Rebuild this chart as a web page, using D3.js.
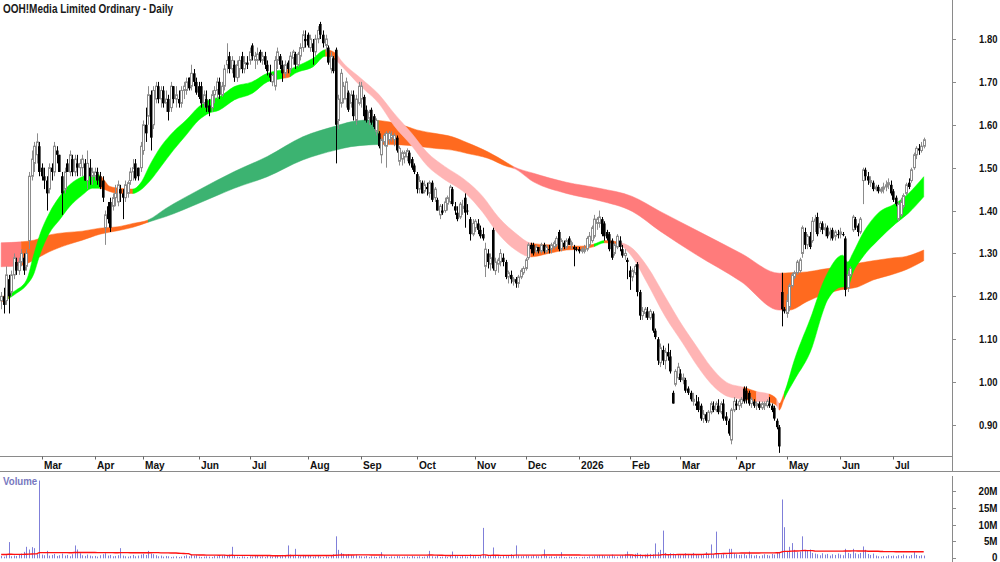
<!DOCTYPE html>
<html><head><meta charset="utf-8">
<script src="https://cdn.jsdelivr.net/npm/d3@7"></script>
<style>body{margin:0;background:#fff}svg{display:block}text{font-family:"Liberation Sans",Arial,Helvetica,sans-serif}</style>
</head><body><svg id="c" width="1000" height="562"></svg>
<script>
const title = "OOH!Media Limited Ordinary - Daily";
const startDate = "2025-02-07", endDate = "2026-07-17";
const holidays = ["2025-04-18","2025-04-21","2025-04-25","2025-06-09","2025-12-25","2025-12-26","2026-01-01","2026-01-26","2026-04-03","2026-04-06","2026-06-08"];
const monthNames = ["Jan","Feb","Mar","Apr","May","Jun","Jul","Aug","Sep","Oct","Nov","Dec"];

const open = [
1.19,1.20,1.19,1.24,1.21,1.25,1.28,1.26,1.28,1.29,1.27,1.33,1.48,1.51,1.53,1.55,
1.50,1.48,1.47,1.45,1.50,1.49,1.54,1.53,1.48,1.45,1.51,1.49,1.52,1.49,1.51,1.50,1.50,1.51,1.47,1.50,1.48,
1.48,1.49,1.48,1.47,1.36,1.41,1.42,1.41,1.43,1.42,1.45,1.44,1.43,1.44,1.47,1.49,1.51,1.50,1.50,
1.54,1.60,1.62,1.67,1.60,1.66,1.69,1.66,1.68,1.65,1.66,1.64,1.69,1.66,1.66,1.65,1.68,1.68,1.71,1.69,1.72,1.70,
1.69,1.69,1.65,1.66,1.645,1.64,1.67,1.68,1.70,1.67,1.69,1.74,1.76,1.73,1.74,1.71,1.73,1.76,1.73,1.745,
1.75,1.785,1.75,1.75,1.77,1.75,1.76,1.74,1.72,1.70,1.69,1.75,1.76,1.74,1.72,1.745,1.73,1.755,1.765,1.74,1.76,1.78,1.80,
1.81,1.78,1.79,1.77,1.80,1.835,1.81,1.785,1.78,1.73,1.755,1.775,1.61,1.65,1.66,1.66,1.675,1.65,1.67,1.61,1.65,
1.66,1.665,1.635,1.615,1.635,1.62,1.585,1.58,1.53,1.56,1.55,1.565,1.57,1.565,1.57,1.515,1.52,1.525,1.525,1.535,1.52,1.505,
1.485,1.45,1.465,1.445,1.455,1.44,1.465,1.43,1.425,1.39,1.40,1.40,1.415,1.42,1.45,1.41,1.395,1.385,1.405,1.43,1.40,1.38,1.345,
1.36,1.37,1.355,1.345,1.27,1.30,1.275,1.355,1.26,1.275,1.28,1.29,1.28,1.245,1.25,1.235,1.24,1.23,1.245,1.255,
1.265,1.29,1.32,1.32,1.305,1.315,1.305,1.32,1.305,1.31,1.31,1.315,1.32,1.35,1.31,1.325,1.315,1.335,1.32,1.315,1.31,
1.31,1.305,1.305,1.31,1.32,1.33,1.34,1.37,1.37,1.38,1.37,1.35,1.345,1.33,1.30,1.315,1.33,1.31,1.295,1.285,
1.26,1.245,1.255,1.275,1.21,1.155,1.16,1.165,1.15,1.16,1.12,1.10,1.045,1.075,1.05,1.07,1.06,0.975,0.995,1.01,
1.02,1.005,1.005,0.985,0.975,0.955,0.95,0.955,0.945,0.915,0.925,0.91,0.93,0.945,0.935,0.945,0.93,0.95,0.92,0.91,0.865,0.935,
0.95,0.945,0.95,0.985,0.98,0.975,0.95,0.955,0.945,0.95,0.94,0.945,0.945,0.95,0.945,0.94,0.91,0.895,1.21,1.17,
1.16,1.175,1.225,1.245,1.255,1.26,1.30,1.35,1.32,1.34,1.33,1.375,1.385,1.36,1.37,1.355,1.36,1.345,1.355,1.34,1.345,
1.345,1.345,1.335,1.22,1.25,1.355,1.38,1.365,1.35,1.47,1.495,1.48,1.465,1.465,1.45,1.455,1.445,1.45,1.455,1.46,1.46,
1.445,1.43,1.38,1.39,1.41,1.44,1.465,1.47,1.50,1.53,1.545,1.54,1.55];

const high = [
1.21,1.22,1.27,1.25,1.26,1.30,1.29,1.29,1.31,1.30,1.31,1.49,1.54,1.56,1.58,1.56,
1.51,1.50,1.48,1.51,1.51,1.56,1.55,1.53,1.49,1.50,1.52,1.54,1.53,1.53,1.53,1.52,1.53,1.52,1.54,1.52,1.50,
1.50,1.50,1.49,1.48,1.40,1.42,1.43,1.44,1.46,1.47,1.46,1.45,1.47,1.47,1.50,1.52,1.52,1.50,1.56,
1.61,1.64,1.69,1.68,1.69,1.70,1.70,1.69,1.69,1.68,1.67,1.70,1.69,1.69,1.68,1.69,1.70,1.71,1.71,1.74,1.73,1.71,
1.70,1.70,1.68,1.68,1.66,1.68,1.69,1.71,1.71,1.70,1.74,1.79,1.77,1.76,1.75,1.75,1.76,1.77,1.76,1.76,
1.78,1.79,1.77,1.78,1.775,1.77,1.77,1.75,1.74,1.72,1.76,1.78,1.765,1.75,1.75,1.75,1.77,1.775,1.77,1.77,1.79,1.82,1.82,
1.815,1.81,1.80,1.81,1.83,1.84,1.82,1.81,1.785,1.77,1.76,1.78,1.67,1.73,1.70,1.71,1.68,1.68,1.68,1.67,1.70,
1.70,1.67,1.645,1.635,1.64,1.625,1.615,1.585,1.57,1.58,1.585,1.585,1.585,1.58,1.575,1.55,1.54,1.54,1.545,1.54,1.525,1.51,
1.49,1.48,1.47,1.47,1.465,1.47,1.47,1.455,1.43,1.415,1.415,1.43,1.435,1.46,1.455,1.42,1.41,1.42,1.425,1.44,1.415,1.385,1.38,
1.38,1.38,1.365,1.36,1.325,1.31,1.30,1.36,1.29,1.29,1.31,1.30,1.285,1.26,1.26,1.245,1.245,1.25,1.265,1.27,
1.29,1.325,1.325,1.325,1.32,1.315,1.325,1.325,1.32,1.32,1.325,1.33,1.34,1.355,1.335,1.33,1.335,1.34,1.33,1.32,1.315,
1.315,1.315,1.32,1.34,1.35,1.365,1.39,1.385,1.40,1.385,1.375,1.355,1.35,1.335,1.325,1.345,1.34,1.32,1.31,1.29,
1.27,1.265,1.275,1.28,1.215,1.175,1.175,1.175,1.17,1.165,1.125,1.105,1.09,1.085,1.08,1.09,1.075,0.98,1.03,1.045,
1.03,1.02,1.01,0.99,0.98,0.975,0.97,0.965,0.95,0.935,0.93,0.935,0.955,0.955,0.955,0.96,0.955,0.96,0.93,0.915,0.94,0.965,
0.96,0.96,0.965,0.99,0.99,0.98,0.965,0.96,0.955,0.955,0.955,0.955,0.96,0.965,0.95,0.945,0.915,0.90,1.255,1.175,
1.205,1.23,1.255,1.26,1.285,1.29,1.365,1.36,1.345,1.35,1.385,1.39,1.395,1.375,1.375,1.37,1.365,1.36,1.36,1.355,1.355,
1.36,1.35,1.34,1.26,1.27,1.39,1.385,1.37,1.385,1.50,1.50,1.49,1.48,1.47,1.46,1.46,1.455,1.465,1.47,1.475,1.47,
1.45,1.435,1.42,1.43,1.44,1.465,1.475,1.50,1.535,1.55,1.555,1.56,1.57];

const low = [
1.17,1.16,1.18,1.16,1.20,1.24,1.25,1.25,1.27,1.25,1.26,1.31,1.47,1.49,1.51,1.48,
1.47,1.45,1.40,1.44,1.47,1.48,1.51,1.49,1.39,1.44,1.49,1.48,1.48,1.48,1.48,1.48,1.48,1.47,1.45,1.46,1.46,
1.47,1.46,1.45,1.42,1.32,1.37,1.35,1.40,1.41,1.41,1.42,1.38,1.42,1.43,1.46,1.47,1.47,1.47,1.49,
1.53,1.56,1.60,1.54,1.59,1.65,1.65,1.64,1.64,1.63,1.61,1.63,1.65,1.64,1.64,1.64,1.66,1.67,1.68,1.68,1.69,1.67,
1.66,1.64,1.64,1.63,1.62,1.63,1.65,1.66,1.66,1.665,1.68,1.72,1.72,1.72,1.70,1.70,1.71,1.72,1.72,1.73,
1.74,1.75,1.73,1.74,1.745,1.74,1.73,1.715,1.70,1.69,1.68,1.73,1.73,1.70,1.71,1.72,1.72,1.74,1.73,1.735,1.75,1.77,1.78,
1.78,1.77,1.74,1.76,1.79,1.80,1.78,1.77,1.74,1.72,1.72,1.51,1.59,1.64,1.65,1.64,1.63,1.64,1.61,1.60,1.645,
1.64,1.61,1.605,1.60,1.60,1.59,1.575,1.545,1.51,1.55,1.50,1.555,1.56,1.55,1.535,1.505,1.505,1.51,1.515,1.505,1.495,1.485,
1.44,1.44,1.44,1.44,1.435,1.43,1.42,1.42,1.40,1.38,1.39,1.395,1.40,1.415,1.41,1.39,1.375,1.38,1.39,1.36,1.39,1.33,1.34,
1.35,1.345,1.335,1.33,1.245,1.265,1.26,1.26,1.25,1.255,1.27,1.27,1.24,1.23,1.23,1.225,1.22,1.22,1.24,1.25,
1.26,1.285,1.30,1.295,1.30,1.30,1.30,1.30,1.30,1.30,1.30,1.31,1.315,1.305,1.305,1.31,1.31,1.32,1.31,1.27,1.305,
1.30,1.30,1.30,1.305,1.315,1.325,1.335,1.355,1.36,1.34,1.33,1.33,1.305,1.285,1.295,1.31,1.305,1.29,1.285,1.24,
1.215,1.235,1.25,1.20,1.145,1.145,1.15,1.145,1.145,1.115,1.10,1.04,1.035,1.04,1.03,1.05,1.02,0.95,0.99,1.005,
1.00,0.995,0.975,0.97,0.955,0.945,0.935,0.93,0.91,0.905,0.905,0.905,0.925,0.93,0.93,0.925,0.925,0.91,0.90,0.875,0.855,0.93,
0.935,0.935,0.94,0.95,0.95,0.945,0.94,0.94,0.935,0.935,0.935,0.935,0.94,0.94,0.93,0.91,0.89,0.835,1.13,1.16,
1.15,1.165,1.22,1.24,1.25,1.255,1.29,1.31,1.31,1.31,1.325,1.35,1.34,1.35,1.345,1.34,1.335,1.33,1.33,1.33,1.335,
1.335,1.34,1.20,1.21,1.245,1.35,1.355,1.34,1.345,1.415,1.47,1.46,1.455,1.445,1.445,1.44,1.44,1.44,1.445,1.45,1.435,
1.42,1.41,1.375,1.385,1.405,1.435,1.45,1.465,1.495,1.52,1.53,1.535,1.545];

const close = [
1.20,1.18,1.25,1.20,1.25,1.29,1.26,1.28,1.30,1.26,1.30,1.48,1.52,1.55,1.56,1.49,
1.48,1.47,1.44,1.50,1.49,1.55,1.53,1.49,1.44,1.49,1.49,1.53,1.49,1.52,1.50,1.51,1.52,1.47,1.51,1.48,1.49,
1.49,1.47,1.455,1.43,1.39,1.38,1.36,1.43,1.44,1.46,1.44,1.43,1.46,1.465,1.49,1.50,1.475,1.48,1.55,
1.60,1.58,1.67,1.57,1.68,1.69,1.66,1.68,1.65,1.66,1.63,1.69,1.66,1.67,1.65,1.68,1.69,1.70,1.685,1.72,1.70,1.675,
1.665,1.65,1.67,1.64,1.63,1.67,1.68,1.70,1.67,1.69,1.73,1.75,1.73,1.75,1.71,1.74,1.75,1.73,1.745,1.74,
1.77,1.76,1.76,1.765,1.75,1.76,1.74,1.725,1.71,1.715,1.75,1.77,1.74,1.72,1.74,1.73,1.76,1.77,1.74,1.765,1.78,1.81,1.795,
1.785,1.80,1.77,1.80,1.82,1.81,1.79,1.80,1.745,1.76,1.725,1.60,1.66,1.72,1.69,1.70,1.635,1.67,1.62,1.66,1.69,
1.69,1.62,1.61,1.63,1.605,1.595,1.61,1.55,1.565,1.575,1.58,1.58,1.575,1.575,1.54,1.545,1.535,1.535,1.54,1.51,1.50,1.49,
1.45,1.47,1.44,1.46,1.45,1.465,1.425,1.45,1.40,1.41,1.395,1.42,1.43,1.455,1.415,1.40,1.38,1.415,1.41,1.395,1.40,1.345,1.37,
1.375,1.355,1.34,1.335,1.31,1.28,1.29,1.265,1.28,1.285,1.30,1.28,1.245,1.255,1.24,1.24,1.23,1.245,1.26,1.265,
1.285,1.32,1.31,1.30,1.315,1.305,1.32,1.305,1.315,1.31,1.32,1.325,1.335,1.31,1.33,1.315,1.33,1.32,1.325,1.31,1.31,
1.305,1.31,1.31,1.335,1.34,1.36,1.38,1.38,1.385,1.345,1.34,1.335,1.31,1.29,1.32,1.34,1.315,1.295,1.30,1.28,
1.245,1.26,1.27,1.21,1.155,1.165,1.17,1.15,1.165,1.12,1.105,1.05,1.08,1.05,1.07,1.06,1.025,0.95,1.025,1.035,
1.005,1.01,0.98,0.975,0.96,0.96,0.945,0.935,0.915,0.925,0.91,0.93,0.95,0.935,0.95,0.93,0.95,0.915,0.91,0.88,0.935,0.955,
0.945,0.955,0.96,0.955,0.96,0.95,0.96,0.945,0.95,0.94,0.95,0.95,0.955,0.945,0.935,0.915,0.895,0.85,1.17,1.165,
1.19,1.225,1.25,1.255,1.28,1.285,1.36,1.32,1.34,1.315,1.375,1.38,1.345,1.37,1.355,1.36,1.34,1.35,1.335,1.35,1.345,
1.35,1.345,1.215,1.25,1.265,1.385,1.36,1.35,1.38,1.495,1.48,1.47,1.47,1.45,1.455,1.445,1.45,1.455,1.46,1.465,1.44,
1.425,1.415,1.415,1.42,1.435,1.46,1.455,1.495,1.53,1.545,1.54,1.55,1.565];

// volume in millions of shares
const volume = [
0.7,0.5,0.9,4.8,0.6,0.8,0.7,1.1,1.4,1.9,3.4,2.6,3.3,3.0,1.2,23.0,
1.1,0.9,2.2,0.8,1.0,1.3,0.7,0.9,1.4,0.8,1.0,0.6,1.2,3.8,2.6,1.5,0.9,0.7,1.1,0.8,0.6,
0.7,0.5,0.9,1.2,1.5,0.8,1.0,0.6,0.7,0.9,3.0,0.8,0.6,0.5,0.7,1.0,0.6,0.8,1.1,
1.3,1.0,2.2,1.4,1.2,0.9,0.6,0.8,0.5,0.7,0.6,0.4,0.5,0.6,0.4,0.5,0.7,0.9,0.6,1.1,0.8,1.0,
0.5,0.4,0.5,0.6,0.5,0.4,0.7,0.6,0.8,0.9,1.0,0.8,1.1,3.4,0.7,0.5,0.4,0.6,0.5,0.4,
0.6,0.5,0.9,0.7,0.5,0.6,0.4,0.8,0.6,0.5,0.7,0.9,0.6,1.0,0.8,3.8,1.1,0.9,2.8,0.7,0.6,1.0,0.8,
0.7,0.9,0.5,0.6,0.8,0.5,0.4,0.6,0.5,0.7,1.2,6.5,2.5,1.6,1.3,1.0,1.2,0.9,0.8,1.1,0.7,
0.6,0.5,0.7,0.4,0.6,0.5,0.4,0.6,1.8,0.9,0.5,0.4,0.6,0.5,0.7,0.6,0.4,0.5,0.6,0.4,0.7,0.5,
0.5,0.6,0.4,0.5,0.7,2.2,0.6,0.5,0.9,0.4,0.5,0.6,0.4,1.0,2.0,0.7,0.6,0.5,0.8,0.6,0.5,1.2,0.7,
0.6,0.5,0.7,9.0,0.9,0.6,0.8,3.2,0.7,0.6,0.5,0.8,0.6,0.9,1.2,0.7,3.8,0.8,0.6,0.7,
0.8,0.7,0.6,0.9,0.7,0.6,0.8,2.6,0.7,0.5,0.6,0.4,0.6,0.5,1.8,0.4,0.3,0.5,0.4,0.3,0.4,
0.3,0.4,0.5,0.4,0.6,0.5,0.7,0.8,1.0,0.9,0.7,0.6,0.8,1.1,0.6,0.5,0.7,0.9,1.2,2.0,
1.0,0.9,1.3,1.6,1.2,0.9,1.1,1.4,1.3,1.2,4.4,1.8,2.5,8.2,1.6,1.2,1.5,1.4,1.0,1.2,
0.9,1.1,1.5,1.3,1.0,1.6,1.2,0.9,1.1,1.3,1.8,1.0,4.1,1.2,7.9,1.4,1.1,1.3,1.0,2.8,2.8,1.5,
1.2,1.0,1.1,1.3,0.9,2.0,1.1,0.8,1.0,0.7,0.9,1.2,1.0,0.8,1.3,1.1,1.6,1.9,17.4,9.2,
2.2,3.4,4.5,2.5,1.8,2.0,6.5,2.5,2.4,2.6,1.6,1.4,1.2,0.9,1.5,1.1,1.3,0.8,1.2,1.0,1.4,
1.1,0.9,2.8,1.6,1.3,2.8,1.5,1.2,1.6,3.5,2.5,1.3,1.0,1.4,0.8,0.6,0.5,0.7,0.6,0.9,0.7,
0.8,0.6,0.9,0.7,1.1,0.8,0.6,1.0,1.8,1.0,0.7,0.9,0.8];
const volMaPeriod = 60;
const volMaSeed = 1.15; // average volume before the first bar (millions)

// short-term moving-average ribbon, read at sample trading days
const shortDay = [0,3,6,10,13,15,19,23,27,32,36,39,43,47,52,55,59,63,68,73,78,82,86,92,99,105,111,114,116,123,128,132,134,142,149,155,162,168,175,182,185,190,196,203,209,216,223,229,234,238,243,249,255,262,269,275,280,287,293,298,303,306,307,309,313,320,324,326,332,334,336,340,346,353,358,364];
const shortTop = [1.199,1.205,1.215,1.238,1.30,1.339,1.394,1.432,1.46,1.479,1.487,1.482,1.456,1.452,1.45,1.464,1.51,1.549,1.584,1.611,1.642,1.658,1.665,1.689,1.70,1.72,1.728,1.73,1.735,1.755,1.775,1.767,1.751,1.708,1.671,1.627,1.58,1.536,1.503,1.476,1.462,1.433,1.386,1.347,1.324,1.32,1.318,1.317,1.322,1.33,1.327,1.312,1.269,1.199,1.13,1.078,1.036,0.997,0.988,0.978,0.972,0.96,0.95,0.975,1.052,1.16,1.228,1.254,1.296,1.28,1.30,1.347,1.394,1.417,1.44,1.479];
const shortBot = [1.187,1.195,1.207,1.226,1.254,1.292,1.347,1.378,1.409,1.436,1.452,1.452,1.444,1.44,1.44,1.448,1.471,1.502,1.541,1.576,1.611,1.627,1.634,1.658,1.673,1.70,1.708,1.712,1.72,1.735,1.76,1.751,1.739,1.689,1.65,1.598,1.551,1.505,1.472,1.446,1.43,1.396,1.347,1.308,1.292,1.30,1.308,1.31,1.316,1.325,1.322,1.292,1.23,1.153,1.09,1.035,0.997,0.966,0.96,0.955,0.953,0.945,0.935,0.962,1.005,1.082,1.16,1.191,1.222,1.222,1.254,1.292,1.331,1.37,1.394,1.432];
// trend state of each segment: g = rising, p = falling, o = mixed
const shortTrend = ("o"+"gggggggggg"+"ooo"+"gggggggggggg"+"o"+"ggg"+"o"+"ppppppppppppp"+"oooo"+"g"+"o"+"pppppppp"+"o"+"p"+"o"+"p"+"o"+"ggggggggggggg").split("");

// long-term moving-average ribbon
const longDay = [0,8,13,19,26,32,39,46,52,58,65,78,92,105,119,132,138,145,149,158,164,171,178,184,192,200,202,210,223,236,249,260,274,292,307,308,311,318,324,331,338,344,351,357,364];
const longTop = [1.325,1.327,1.331,1.343,1.349,1.352,1.359,1.362,1.37,1.378,1.405,1.448,1.491,1.526,1.572,1.597,1.607,1.611,1.61,1.60,1.588,1.58,1.572,1.558,1.537,1.51,1.503,1.487,1.466,1.452,1.433,1.398,1.355,1.30,1.254,1.254,1.255,1.257,1.263,1.269,1.277,1.283,1.289,1.293,1.308];
const longBot = [1.269,1.272,1.285,1.304,1.32,1.331,1.345,1.353,1.361,1.373,1.386,1.417,1.452,1.479,1.518,1.541,1.549,1.553,1.554,1.553,1.55,1.545,1.541,1.533,1.522,1.502,1.499,1.467,1.44,1.423,1.398,1.352,1.298,1.234,1.168,1.168,1.168,1.188,1.203,1.215,1.222,1.238,1.25,1.262,1.283];
const longTrend = ("S"+"oooooooo"+"GGGGGGGGG"+"oooooooo"+"SSSSSSSSS"+"oooooooooo").split("");

const priceTicks = [0.90,1.00,1.10,1.20,1.30,1.40,1.50,1.60,1.70,1.80];
const volTicks = [0,5,10,15,20];

// ---------------------------------------------------------------
const shortColors = {g:"#00ff00", p:"#ffb4b4", o:"#ff6a1f"};
const longColors  = {G:"#3cb371", S:"#ff7b7b", o:"#ff6a1f"};

const days = [];
{
  let d = new Date(startDate + "T00:00:00Z");
  const end = new Date(endDate + "T00:00:00Z");
  while (d <= end) {
    const wd = d.getUTCDay(), s = d.toISOString().slice(0, 10);
    if (wd !== 0 && wd !== 6 && !holidays.includes(s)) days.push(new Date(d));
    d.setUTCDate(d.getUTCDate() + 1);
  }
}
const N = Math.min(days.length, close.length);

const svg = d3.select("#c");
const W = 1000, H = 562;
const axisX = 952;
const priceTop = 0, priceBottom = 456.5;
const dateBottom = 471.5;

const x = d3.scaleLinear().domain([0, 364]).range([1.15, 1.15 + 364 * 2.5345]);
const yP = d3.scaleLinear().domain([0.9, 1.8]).range([425, 39]);
const yV = d3.scaleLinear().domain([0, 20]).range([558.3, 490.7]);

const defs = svg.append("defs");
defs.append("clipPath").attr("id", "pc")
  .append("rect").attr("x", 0).attr("y", priceTop).attr("width", axisX).attr("height", priceBottom - priceTop);

const gPrice = svg.append("g").attr("clip-path", "url(#pc)");

let clipCount = 0;
function drawRibbon(daysArr, top, bot, trend, colors) {
  const pts = daysArr.map((d, k) => ({d, t: top[k], b: bot[k], c: trend[k]}));
  const area = d3.area().x(p => x(p.d)).y0(p => yP(p.b)).y1(p => yP(p.t)).curve(d3.curveMonotoneX);
  const dPath = area(pts);
  let k = 0;
  while (k < pts.length - 1) {
    const c = pts[k].c;
    let m = k + 1;
    while (m < pts.length - 1 && pts[m].c === c) m++;
    const id = "rc" + (clipCount++);
    const x0 = k === 0 ? -5 : x(pts[k].d) - 0.25;
    const x1 = m === pts.length - 1 ? axisX : x(pts[m].d) + 0.25;
    defs.append("clipPath").attr("id", id).append("rect")
      .attr("x", x0).attr("y", -10).attr("width", x1 - x0).attr("height", H + 20);
    gPrice.append("path").attr("d", dPath).attr("clip-path", `url(#${id})`)
      .attr("fill", colors[c]).attr("stroke", colors[c]).attr("stroke-width", 0.5);
    k = m;
  }
}
drawRibbon(longDay, longTop, longBot, longTrend, longColors);
drawRibbon(shortDay, shortTop, shortBot, shortTrend, shortColors);

// candles
const gC = gPrice.append("g");
for (let i = 0; i < N; i++) {
  const o = open[i], c = close[i];
  const h = Math.max(high[i], o, c), l = Math.min(low[i], o, c);
  const cx = Math.round(x(i)) + 0.5;
  const up = c > o;
  gC.append("line").attr("x1", cx).attr("x2", cx).attr("y1", yP(h)).attr("y2", yP(l))
    .attr("stroke", up ? "#8c8c8c" : "#000").attr("stroke-width", 1);
  const yt = yP(Math.max(o, c)), yb = yP(Math.min(o, c));
  if (up) {
    gC.append("rect").attr("x", cx - 1).attr("y", yt).attr("width", 2).attr("height", Math.max(0.5, yb - yt))
      .attr("fill", "#fff").attr("stroke", "#8c8c8c").attr("stroke-width", 1);
  } else {
    gC.append("rect").attr("x", cx - 1.5).attr("y", yt).attr("width", 2.6).attr("height", Math.max(1, yb - yt))
      .attr("fill", "#000");
  }
}

// helper to condense text horizontally
function squeeze(sel, f) {
  sel.each(function () {
    const w = this.getComputedTextLength();
    d3.select(this).attr("textLength", w * f).attr("lengthAdjust", "spacingAndGlyphs");
  });
}

// axes lines
const axisCol = "#8a8a8a";
svg.append("line").attr("x1", axisX + 0.5).attr("x2", axisX + 0.5).attr("y1", 0).attr("y2", dateBottom).attr("stroke", axisCol);
svg.append("line").attr("x1", 0).attr("x2", axisX).attr("y1", priceBottom).attr("y2", priceBottom).attr("stroke", axisCol);
svg.append("line").attr("x1", 0).attr("x2", W).attr("y1", dateBottom).attr("y2", dateBottom).attr("stroke", axisCol);

// price ticks
priceTicks.forEach(p => {
  const yy = Math.round(yP(p)) + 0.5;
  svg.append("line").attr("x1", axisX + 0.5).attr("x2", axisX + 4).attr("y1", yy).attr("y2", yy).attr("stroke", axisCol);
  const t = svg.append("text").attr("x", 997.5).attr("y", yy + 3.8).attr("text-anchor", "end")
    .attr("font-size", 10.5).attr("font-weight", "bold").attr("fill", "#111").text(p.toFixed(2));
  squeeze(t, 0.9);
});

// month ticks
for (let i = 1; i < N; i++) {
  if (days[i].getUTCMonth() !== days[i - 1].getUTCMonth()) {
    const xx = Math.round(x(i)) + 0.5;
    svg.append("line").attr("x1", xx).attr("x2", xx).attr("y1", priceBottom).attr("y2", priceBottom + 3).attr("stroke", "#666");
    const m = days[i].getUTCMonth();
    const lab = m === 0 ? String(days[i].getUTCFullYear()) : monthNames[m];
    const t = svg.append("text").attr("x", xx + 1.5).attr("y", 469).attr("font-size", 11.5)
      .attr("font-weight", "bold").attr("fill", "#111").text(lab);
    squeeze(t, 0.88);
  }
}

// volume panel
const gV = svg.append("g");
for (let i = 0; i < N; i++) {
  const xx = Math.round(x(i));
  gV.append("rect").attr("x", xx).attr("width", 1).attr("y", yV(volume[i])).attr("height", yV(0) - yV(volume[i]))
    .attr("fill", "#7f7fd9");
}
const volMa = volume.slice(0, N).map((v, i) => {
  let s = 0;
  for (let j = i - volMaPeriod + 1; j <= i; j++) s += j >= 0 ? volume[j] : volMaSeed;
  return s / volMaPeriod;
});
svg.append("path").attr("d", d3.line().x((d, i) => x(i)).y(d => yV(d))(volMa))
  .attr("fill", "none").attr("stroke", "#ff1010").attr("stroke-width", 1.4);

svg.append("line").attr("x1", axisX + 0.5).attr("x2", axisX + 0.5).attr("y1", 476).attr("y2", H).attr("stroke", axisCol);
volTicks.forEach(v => {
  const yy = Math.round(yV(v)) + 0.5;
  svg.append("line").attr("x1", axisX + 0.5).attr("x2", axisX + 4).attr("y1", yy).attr("y2", yy).attr("stroke", axisCol);
  const t = svg.append("text").attr("x", 997.5).attr("y", Math.min(yy + 3.8, 560.5)).attr("text-anchor", "end")
    .attr("font-size", 10.5).attr("font-weight", "bold").attr("fill", "#111").text(v === 0 ? "0" : v + "M");
  squeeze(t, 0.93);
});
const vl = svg.append("text").attr("x", 3).attr("y", 484.5).attr("font-size", 10.5).attr("font-weight", "bold")
  .attr("fill", "#7878c0").text("Volume");
squeeze(vl, 0.92);

// title
svg.append("text").attr("x", 3).attr("y", 13).attr("font-size", 12.5).attr("font-weight", "bold")
  .attr("fill", "#1a1a1a").attr("textLength", 170).attr("lengthAdjust", "spacingAndGlyphs").text(title);
</script>
</body></html>
